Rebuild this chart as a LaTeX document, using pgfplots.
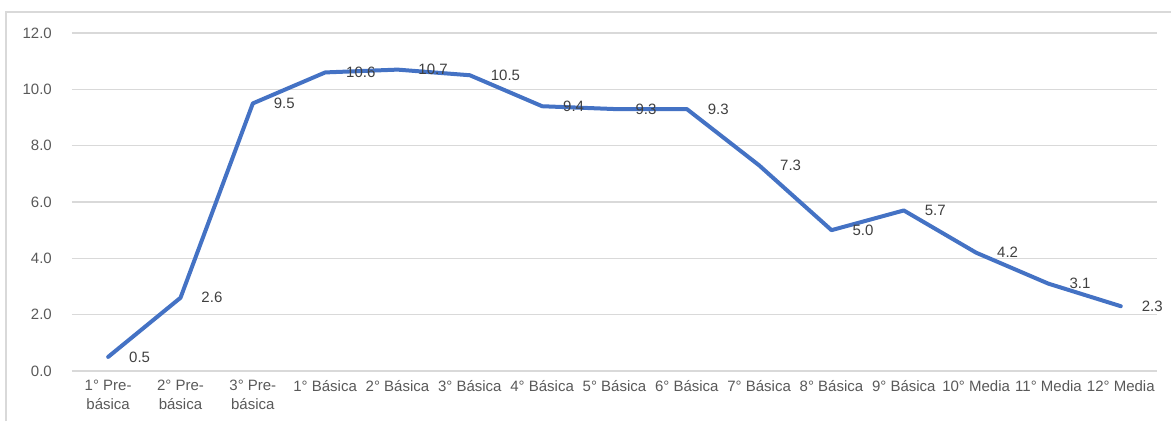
\documentclass[border=0pt]{standalone}
\usepackage{fontspec}
\setmainfont{Liberation Sans}
\usepackage{pgfplots}
\pgfplotsset{compat=1.18}
\definecolor{lineblue}{HTML}{4472C4}
\definecolor{gridgray}{HTML}{D9D9D9}
\definecolor{ticktext}{HTML}{595959}
\definecolor{labeltext}{HTML}{404040}
\definecolor{framegray}{HTML}{D9D9D9}

\begin{document}
\begin{tikzpicture}[x=1pt,y=1pt]
    \useasboundingbox (0,0) rectangle (1171,421);
    % frame of the chart area (cut off at right and bottom)
    \draw[framegray, line width=1.5pt] (6,0) -- (6,409) -- (1171,409);
    \begin{axis}[
        at={(72pt,50pt)},
        anchor=south west,
        scale only axis,
        width=1085pt, height=338pt,
        xmin=-0.5, xmax=14.5,
        ymin=0, ymax=12,
        ytick={0,2,4,6,8,10,12},
        xtick=data,
        xticklabels={{1° Pre-\\básica},{2° Pre-\\básica},{3° Pre-\\básica},
            1° Básica,2° Básica,3° Básica,4° Básica,5° Básica,6° Básica,
            7° Básica,8° Básica,9° Básica,10° Media,11° Media,12° Media},
        axis line style={draw=none},
        major tick length=0pt,
        ymajorgrids,
        grid style={gridgray, line width=1.5pt},
        /pgf/number format/assume math mode=true,
        yticklabel={\pgfmathprintnumber[fixed,fixed zerofill,precision=1]{\tick}},
        yticklabel style={anchor=east, inner sep=0pt, xshift=-20pt,
            font=\fontsize{15}{18}\selectfont, text=ticktext},
        xticklabel style={anchor=north, inner sep=0pt, yshift=-9pt, align=center,
            font=\fontsize{15}{19}\selectfont, text=ticktext},
        nodes near coords={\pgfmathprintnumber[fixed,fixed zerofill,precision=1]{\pgfplotspointmeta}},
        nodes near coords style={anchor=west, inner sep=0pt, xshift=19pt,
            font=\fontsize{15}{18}\selectfont, text=labeltext},
        clip=false,
    ]
    % values per grade
    \addplot[line width=4pt, color=lineblue, line join=round, line cap=round, mark=none]
    coordinates {
    (0,0.5) (1,2.6) (2,9.5) (3,10.6) (4,10.7) (5,10.5) (6,9.4) (7,9.3)
    (8,9.3) (9,7.3) (10,5.0) (11,5.7) (12,4.2) (13,3.1) (14,2.3)
    };
    \end{axis}
\end{tikzpicture}
\end{document}
